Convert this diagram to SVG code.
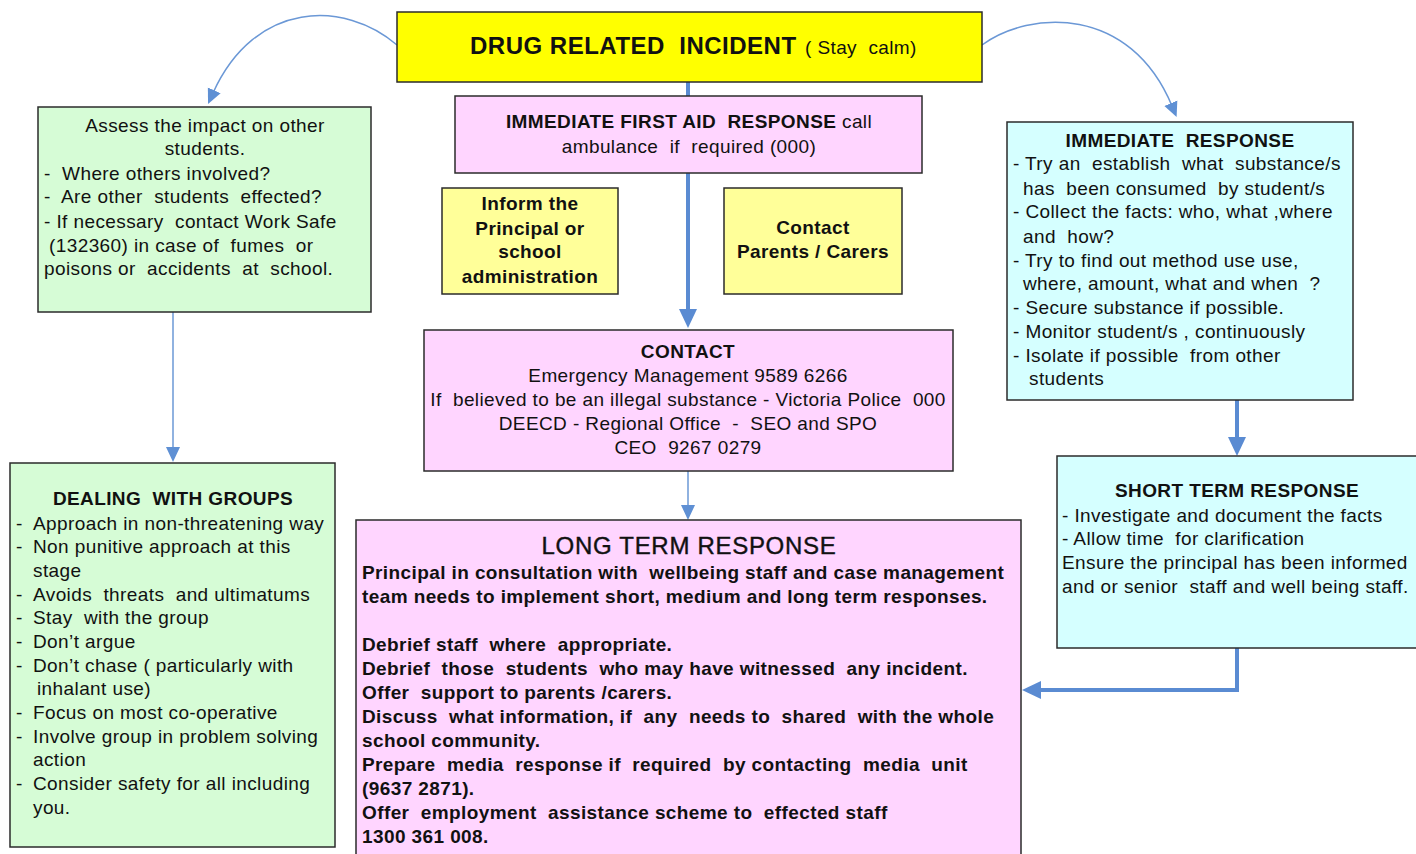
<svg xmlns="http://www.w3.org/2000/svg" width="1416" height="854" viewBox="0 0 1416 854">
<style>
.box{stroke:#2b2b2b;stroke-width:1.5}
.t{font-family:"Liberation Sans",Arial,sans-serif;font-size:19px;letter-spacing:0.4px;fill:#111;white-space:pre}
.b{font-weight:bold}
.c{text-anchor:middle}
.thin{stroke:#6b98d6;stroke-width:1.5;fill:none}
.thick{stroke:#5a8bd2;stroke-width:4;fill:none}
</style>
<defs>
<marker id="ah" markerUnits="userSpaceOnUse" markerWidth="16" markerHeight="16" viewBox="0 0 16 16" refX="3" refY="8" orient="auto"><path d="M0,1 L15,8 L0,15 z" fill="#5f90d4"/></marker>
<marker id="ahb" markerUnits="userSpaceOnUse" markerWidth="20" markerHeight="20" viewBox="0 0 20 20" refX="3" refY="10" orient="auto"><path d="M0,1 L19,10 L0,19 z" fill="#5a8bd2"/></marker>
</defs>
<rect width="1416" height="854" fill="#ffffff"/>
<g id="connectors">
<path class="thin" d="M397,45 C345,0 255,0 213,93" marker-end="url(#ah)"/>
<path class="thin" d="M982,45 C1030,10 1130,5 1172,106" marker-end="url(#ah)"/>
<path class="thick" d="M688,82 V312" marker-end="url(#ahb)"/>
<path class="thin" d="M173,312 V450" marker-end="url(#ah)"/>
<path class="thin" d="M688,471 V508" marker-end="url(#ah)"/>
<path class="thick" d="M1237,400 V440" marker-end="url(#ahb)"/>
<path class="thick" d="M1237,648 V690 H1038" marker-end="url(#ahb)"/>
</g>
<g id="title">
<rect class="box" x="397" y="12" width="585" height="70" fill="#ffff00"/>
<text class="t" y="54"><tspan x="470" class="b" style="font-size:24px;letter-spacing:0.5px">DRUG RELATED  INCIDENT</tspan><tspan x="805">( Stay  calm)</tspan></text>
</g>
<g id="firstaid">
<rect class="box" x="455" y="96" width="467" height="77" fill="#ffd5ff"/>
<text class="t c" x="689" y="128"><tspan class="b">IMMEDIATE FIRST AID  RESPONSE</tspan> call</text>
<text class="t c" x="689" y="153">ambulance  if  required (000)</text>
</g>
<g id="inform">
<rect class="box" x="442" y="188" width="176" height="106" fill="#ffff99"/>
<text class="t b c" x="530" y="210">Inform the</text>
<text class="t b c" x="530" y="235">Principal or</text>
<text class="t b c" x="530" y="258">school</text>
<text class="t b c" x="530" y="283">administration</text>
</g>
<g id="parents">
<rect class="box" x="724" y="188" width="178" height="106" fill="#ffff99"/>
<text class="t b c" x="813" y="234">Contact</text>
<text class="t b c" x="813" y="258">Parents / Carers</text>
</g>
<g id="assess">
<rect class="box" x="38" y="107" width="333" height="205" fill="#d6fcd6"/>
<text class="t c" x="205" y="132">Assess the impact on other</text>
<text class="t c" x="205" y="155">students.</text>
<text class="t" x="44" y="180">-  Where others involved?</text>
<text class="t" x="44" y="203">-  Are other  students  effected?</text>
<text class="t" x="44" y="228">- If necessary  contact Work Safe</text>
<text class="t" x="49" y="252">(132360) in case of  fumes  or</text>
<text class="t" x="44" y="275">poisons or  accidents  at  school.</text>
</g>
<g id="groups">
<rect class="box" x="10" y="463" width="325" height="384" fill="#d6fcd6"/>
<text class="t b c" x="173" y="505">DEALING  WITH GROUPS</text>
<text class="t" x="16" y="530">-</text><text class="t" x="33" y="530">Approach in non-threatening way</text>
<text class="t" x="16" y="553">-</text><text class="t" x="33" y="553">Non punitive approach at this</text>
<text class="t" x="33" y="577">stage</text>
<text class="t" x="16" y="601">-</text><text class="t" x="33" y="601">Avoids  threats  and ultimatums</text>
<text class="t" x="16" y="624">-</text><text class="t" x="33" y="624">Stay  with the group</text>
<text class="t" x="16" y="648">-</text><text class="t" x="33" y="648">Don’t argue</text>
<text class="t" x="16" y="672">-</text><text class="t" x="33" y="672">Don’t chase ( particularly with</text>
<text class="t" x="37" y="695">inhalant use)</text>
<text class="t" x="16" y="719">-</text><text class="t" x="33" y="719">Focus on most co-operative</text>
<text class="t" x="16" y="743">-</text><text class="t" x="33" y="743">Involve group in problem solving</text>
<text class="t" x="33" y="766">action</text>
<text class="t" x="16" y="790">-</text><text class="t" x="33" y="790">Consider safety for all including</text>
<text class="t" x="33" y="814">you.</text>
</g>
<g id="immediate">
<rect class="box" x="1007" y="122" width="346" height="278" fill="#d5ffff"/>
<text class="t b c" x="1180" y="147">IMMEDIATE  RESPONSE</text>
<text class="t" x="1013" y="170">- Try an  establish  what  substance/s</text>
<text class="t" x="1023" y="195">has  been consumed  by student/s</text>
<text class="t" x="1013" y="218">- Collect the facts: who, what ,where</text>
<text class="t" x="1023" y="243">and  how?</text>
<text class="t" x="1013" y="267">- Try to find out method use use,</text>
<text class="t" x="1023" y="290">where, amount, what and when  ?</text>
<text class="t" x="1013" y="314">- Secure substance if possible.</text>
<text class="t" x="1013" y="338">- Monitor student/s , continuously</text>
<text class="t" x="1013" y="362">- Isolate if possible  from other</text>
<text class="t" x="1029" y="385">students</text>
</g>
<g id="shortterm">
<rect class="box" x="1057" y="456" width="375" height="192" fill="#d5ffff"/>
<text class="t b c" x="1237" y="497">SHORT TERM RESPONSE</text>
<text class="t" x="1062" y="522">- Investigate and document the facts</text>
<text class="t" x="1062" y="545">- Allow time  for clarification</text>
<text class="t" x="1062" y="569">Ensure the principal has been informed</text>
<text class="t" x="1062" y="593">and or senior  staff and well being staff.</text>
</g>
<g id="contact">
<rect class="box" x="424" y="330" width="529" height="141" fill="#ffd5ff"/>
<text class="t b c" x="688" y="358">CONTACT</text>
<text class="t c" x="688" y="382">Emergency Management 9589 6266</text>
<text class="t c" x="688" y="406">If  believed to be an illegal substance - Victoria Police  000</text>
<text class="t c" x="688" y="430">DEECD - Regional Office  -  SEO and SPO</text>
<text class="t c" x="688" y="454">CEO  9267 0279</text>
</g>
<g id="longterm">
<rect class="box" x="356" y="520" width="665" height="350" fill="#ffd5ff"/>
<text class="t c" x="689" y="554" style="font-size:24px;letter-spacing:0.7px;stroke:#111;stroke-width:0.4">LONG TERM RESPONSE</text>
<text class="t b" x="362" y="579">Principal in consultation with  wellbeing staff and case management</text>
<text class="t b" x="362" y="603">team needs to implement short, medium and long term responses.</text>
<text class="t b" x="362" y="651">Debrief staff  where  appropriate.</text>
<text class="t b" x="362" y="675">Debrief  those  students  who may have witnessed  any incident.</text>
<text class="t b" x="362" y="699">Offer  support to parents /carers.</text>
<text class="t b" x="362" y="723">Discuss  what information, if  any  needs to  shared  with the whole</text>
<text class="t b" x="362" y="747">school community.</text>
<text class="t b" x="362" y="771">Prepare  media  response if  required  by contacting  media  unit</text>
<text class="t b" x="362" y="795">(9637 2871).</text>
<text class="t b" x="362" y="819">Offer  employment  assistance scheme to  effected staff</text>
<text class="t b" x="362" y="843">1300 361 008.</text>
</g>
</svg>
